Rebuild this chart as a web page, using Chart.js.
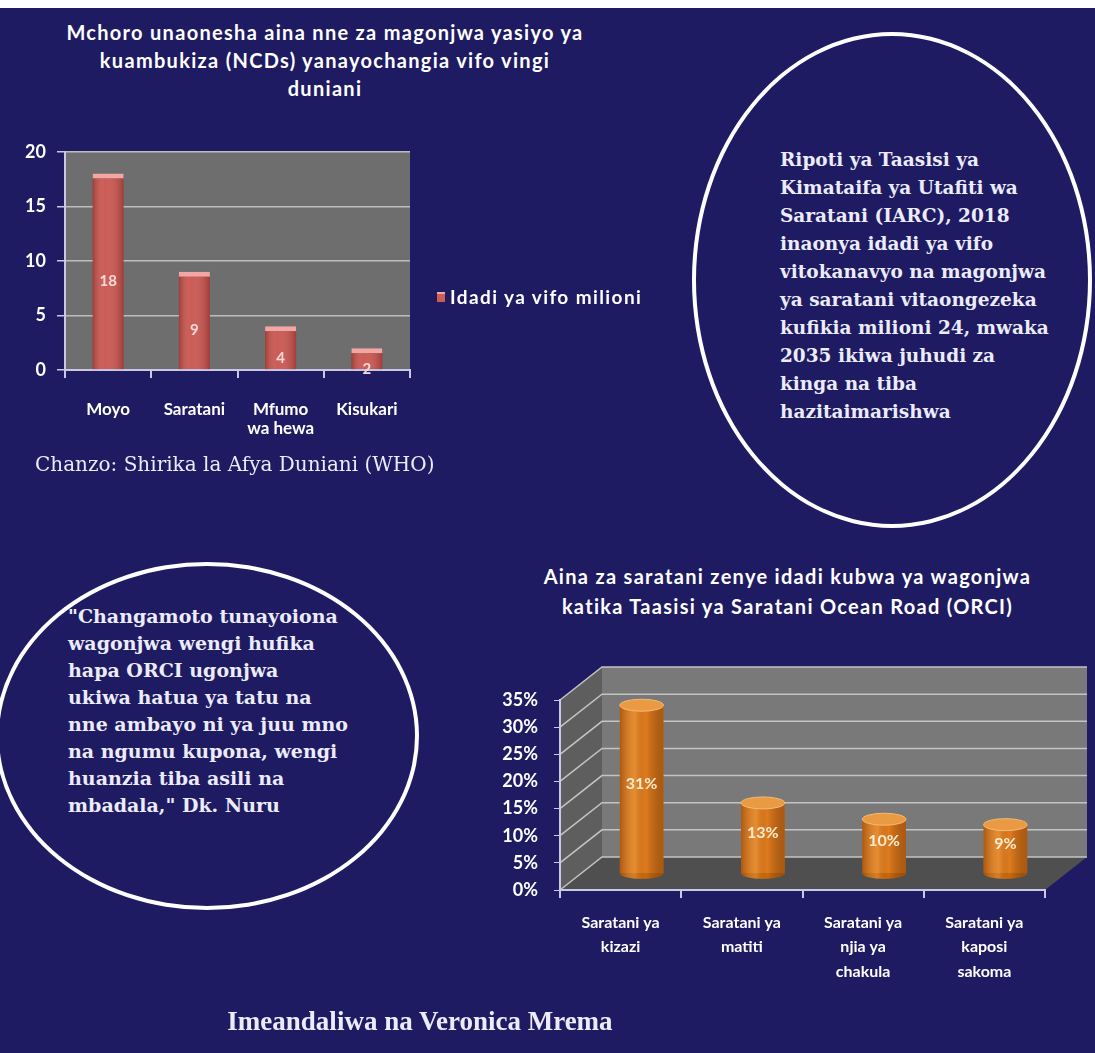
<!DOCTYPE html>
<html lang="sw">
<head>
<meta charset="UTF-8">
<title>Magonjwa yasiyo ya kuambukiza (NCDs)</title>
<script src="https://cdn.jsdelivr.net/npm/chart.js@4.4.1/dist/chart.umd.min.js"></script>
<style>
    html, body { margin: 0; padding: 0; }
    body {
        width: 1095px; height: 1053px; position: relative; overflow: hidden;
        background: #1e1b62; color: #fff; font-family: Lato, "Open Sans", sans-serif;
    }
    .topband { position: absolute; left: 0; top: 0; width: 1095px; height: 8px; background: #fff; }
    .title { position: absolute; text-align: center; font-weight: bold; font-size: 20px; line-height: 28px; letter-spacing: 1.3px; white-space: nowrap; }
    .serif { position: absolute; font-family: "DejaVu Serif", serif; color: #ecebfa; white-space: nowrap; }
    .ring { position: absolute; border: 4px solid #fff; border-radius: 50%; box-sizing: border-box; }
    .box { position: absolute; }
    .legend-sq { position: absolute; left: 437px; top: 292px; width: 8px; height: 10px; background: #cf5b56; border-top: 2px solid #f2a5a0; box-sizing: border-box; }
    .legend-tx { position: absolute; left: 450px; top: 285px; font-weight: bold; font-size: 19px; line-height: 24px; letter-spacing: 1.4px; white-space: nowrap; }
</style>
</head>
<body>
<div class="topband"></div>

<!-- chati ya kwanza -->
<div class="title" style="left:0; top:18px; width:650px;">Mchoro unaonesha aina nne za magonjwa yasiyo ya<br>kuambukiza (NCDs) yanayochangia vifo vingi<br>duniani</div>
<div class="box" style="left:0; top:130px; width:440px; height:330px;"><canvas id="ncdChart"></canvas></div>
<div class="legend-sq"></div>
<div class="legend-tx">Idadi ya vifo milioni</div>
<div class="serif" style="left:35px; top:451px; font-size:20px; line-height:26px;">Chanzo: Shirika la Afya Duniani (WHO)</div>

<!-- duara la kulia -->
<div class="ring" style="left:692px; top:32px; width:400px; height:496px;"></div>
<div class="serif" style="left:780px; top:146px; font-size:18.5px; line-height:28px; font-weight:bold;">
Ripoti ya Taasisi ya<br>Kimataifa ya Utafiti wa<br>Saratani (IARC), 2018<br>inaonya idadi ya vifo<br>vitokanavyo na magonjwa<br>ya saratani vitaongezeka<br>kufikia milioni 24, mwaka<br>2035 ikiwa juhudi za<br>kinga na tiba<br>hazitaimarishwa</div>

<!-- duara la kushoto -->
<div class="ring" style="left:-5px; top:562px; width:424px; height:348px;"></div>
<div class="serif" style="left:68px; top:603px; font-size:19px; line-height:27px; font-weight:bold;">
"Changamoto tunayoiona<br>wagonjwa wengi hufika<br>hapa ORCI ugonjwa<br>ukiwa hatua ya tatu na<br>nne ambayo ni ya juu mno<br>na ngumu kupona, wengi<br>huanzia tiba asili na<br>mbadala," Dk. Nuru</div>

<!-- chati ya pili -->
<div class="title" style="left:480px; top:561px; width:615px; line-height:30px;">Aina za saratani zenye idadi kubwa ya wagonjwa<br>katika Taasisi ya Saratani Ocean Road (ORCI)</div>
<div class="box" style="left:480px; top:640px; width:615px; height:380px;"><canvas id="orciChart"></canvas></div>

<div class="serif" style="left:0; width:840px; top:1003px; text-align:center; font-family:'Liberation Serif', serif; font-weight:bold; font-size:27px; line-height:36px;">Imeandaliwa na Veronica Mrema</div>

<script>
// data: vifo (milioni) kwa NCDs
const causes = [['Moyo'], ['Saratani'], ['Mfumo', 'wa hewa'], ['Kisukari']];
const deaths = [18, 9, 4, 2];
const deathTicks = [0, 5, 10, 15, 20];
const deathLabel = 'Idadi ya vifo milioni';

// data: aina za saratani ORCI (%)
const cancerTypes = [['Saratani ya', 'kizazi'], ['Saratani ya', 'matiti'], ['Saratani ya', 'njia ya', 'chakula'], ['Saratani ya', 'kaposi', 'sakoma']];
const cancerShare = [31, 13, 10, 9];
const shareTicks = [0, 5, 10, 15, 20, 25, 30, 35];

const depth = { dx: 42, dy: -33 };

function poly(ctx, pts) {
    ctx.beginPath();
    ctx.moveTo(pts[0][0], pts[0][1]);
    for (let i = 1; i < pts.length; i++) ctx.lineTo(pts[i][0], pts[i][1]);
    ctx.closePath();
    ctx.fill();
}

// gray plot background
const plotBg = {
    id: 'plotBg',
    beforeDraw(chart) {
        const { ctx, chartArea: a } = chart;
        ctx.save();
        ctx.fillStyle = '#6e6e6e';
        ctx.fillRect(a.left, a.top, a.right - a.left, a.bottom - a.top);
        ctx.restore();
    }
};

// shading + value text for flat bars
const flatBars = {
    id: 'flatBars',
    afterDatasetsDraw(chart) {
        const ctx = chart.ctx;
        chart.getDatasetMeta(0).data.forEach((el, i) => {
            const x0 = el.x - el.width / 2;
            const g = ctx.createLinearGradient(x0, 0, x0 + el.width, 0);
            g.addColorStop(0, 'rgba(90,20,20,0.35)');
            g.addColorStop(0.4, 'rgba(255,255,255,0.06)');
            g.addColorStop(1, 'rgba(90,20,20,0.35)');
            ctx.save();
            ctx.fillStyle = g;
            ctx.fillRect(x0, el.y + 5, el.width, el.base - el.y - 5);
            ctx.fillStyle = '#f6dada';
            ctx.font = 'bold 15px Lato, sans-serif';
            ctx.textAlign = 'center';
            ctx.textBaseline = 'middle';
            ctx.fillText(deaths[i], el.x, (el.y + el.base) / 2 + 10);
            ctx.restore();
        });
    }
};

// 3D walls, floor and wall gridlines
const walls = {
    id: 'walls',
    beforeDraw(chart) {
        const { ctx, chartArea: a, scales: { y } } = chart;
        const { dx, dy } = depth;
        ctx.save();
        ctx.fillStyle = '#797979';
        ctx.fillRect(a.left + dx, a.top + dy, a.right - a.left, a.bottom - a.top);
        ctx.fillStyle = '#5e5e5e';
        poly(ctx, [[a.left, a.top], [a.left + dx, a.top + dy], [a.left + dx, a.bottom + dy], [a.left, a.bottom]]);
        ctx.fillStyle = '#4f4f4f';
        poly(ctx, [[a.left, a.bottom], [a.left + dx, a.bottom + dy], [a.right + dx, a.bottom + dy], [a.right, a.bottom]]);
        ctx.strokeStyle = '#c4c4c4';
        ctx.lineWidth = 1.5;
        y.ticks.forEach(t => {
            const py = y.getPixelForValue(t.value);
            ctx.beginPath();
            ctx.moveTo(a.left, py);
            ctx.lineTo(a.left + dx, py + dy);
            ctx.lineTo(a.right + dx, py + dy);
            ctx.stroke();
        });
        ctx.restore();
    },
    beforeDatasetsDraw(chart) {
        chart.ctx.save();
        chart.ctx.translate(depth.dx / 2, depth.dy / 2);
    },
    afterDatasetsDraw(chart) {
        const ctx = chart.ctx;
        chart.getDatasetMeta(0).data.forEach((el, i) => {
            const r = el.width / 2, ry = 6;
            const x0 = el.x - r;
            // bottom rounding
            ctx.fillStyle = '#c8690f';
            ctx.beginPath();
            ctx.ellipse(el.x, el.base, r, ry, 0, 0, Math.PI);
            ctx.fill();
            // cylinder shading
            const g = ctx.createLinearGradient(x0, 0, x0 + el.width, 0);
            g.addColorStop(0, 'rgba(110,45,0,0.45)');
            g.addColorStop(0.35, 'rgba(255,200,120,0.22)');
            g.addColorStop(0.6, 'rgba(0,0,0,0)');
            g.addColorStop(1, 'rgba(110,45,0,0.45)');
            ctx.fillStyle = g;
            ctx.fillRect(x0, el.y, el.width, el.base - el.y);
            ctx.beginPath();
            ctx.ellipse(el.x, el.base, r, ry, 0, 0, Math.PI);
            ctx.fill();
            // top cap
            ctx.fillStyle = '#eb9a44';
            ctx.strokeStyle = '#f5bb72';
            ctx.lineWidth = 1;
            ctx.beginPath();
            ctx.ellipse(el.x, el.y, r, ry, 0, 0, Math.PI * 2);
            ctx.fill();
            ctx.stroke();
            ctx.fillStyle = '#fcecd0';
            ctx.font = 'bold 16px Lato, sans-serif';
            ctx.textAlign = 'center';
            ctx.textBaseline = 'middle';
            ctx.fillText(cancerShare[i] + '%', el.x, (el.y + el.base) / 2 - 5);
        });
        ctx.restore();
    }
};

const axisColor = '#c9c9e6';

new Chart(document.getElementById('ncdChart'), {
    type: 'bar',
    data: {
        labels: causes,
        datasets: [{
            label: deathLabel,
            data: deaths,
            backgroundColor: '#c9514a',
            borderColor: '#f3a7a2',
            borderWidth: { top: 5, right: 0, bottom: 0, left: 0 },
            barPercentage: 0.36,
            categoryPercentage: 1
        }]
    },
    options: {
        responsive: true,
        maintainAspectRatio: false,
        animation: false,
        layout: { padding: { top: 20, right: 30, left: 0, bottom: 0 } },
        plugins: { legend: { display: false }, tooltip: { enabled: false } },
        scales: {
            x: {
                afterFit: s => { s.height = 90; },
                grid: { offset: true, drawOnChartArea: false, drawTicks: true, tickLength: 8, color: axisColor, lineWidth: 2 },
                border: { color: axisColor, width: 2 },
                ticks: { color: '#ffffff', padding: 22, font: { family: 'Lato', weight: 'bold', size: 17, lineHeight: 1.1 } }
            },
            y: {
                min: 0, max: 20,
                afterFit: s => { s.width = 65; },
                afterBuildTicks: s => { s.ticks = deathTicks.map(v => ({ value: v })); },
                grid: { color: '#bdbdbd', lineWidth: 1.5, tickLength: 8, tickColor: axisColor },
                border: { color: axisColor, width: 2 },
                ticks: { color: '#ffffff', padding: 11, font: { family: 'Lato', weight: 'bold', size: 18 } }
            }
        }
    },
    plugins: [plotBg, flatBars]
});

new Chart(document.getElementById('orciChart'), {
    type: 'bar',
    data: {
        labels: cancerTypes,
        datasets: [{
            label: 'Asilimia ya wagonjwa',
            data: cancerShare,
            backgroundColor: '#df7b1d',
            borderWidth: 0,
            barPercentage: 0.36,
            categoryPercentage: 1,
            clip: false
        }]
    },
    options: {
        responsive: true,
        maintainAspectRatio: false,
        animation: false,
        layout: { padding: { top: 60, right: 50, left: 0, bottom: 0 } },
        plugins: { legend: { display: false }, tooltip: { enabled: false } },
        scales: {
            x: {
                afterFit: s => { s.height = 130; },
                grid: { offset: true, drawOnChartArea: false, drawTicks: true, tickLength: 8, color: axisColor, lineWidth: 2 },
                border: { color: axisColor, width: 2 },
                ticks: { color: '#ffffff', padding: 12, font: { family: 'Lato', weight: 'bold', size: 16, lineHeight: 1.55 } }
            },
            y: {
                min: 0, max: 35,
                afterFit: s => { s.width = 80; },
                afterBuildTicks: s => { s.ticks = shareTicks.map(v => ({ value: v })); },
                grid: { drawOnChartArea: false, tickLength: 6, color: axisColor },
                border: { color: axisColor, width: 2 },
                ticks: { color: '#ffffff', padding: 16, callback: v => v + '%', font: { family: 'Lato', weight: 'bold', size: 18 } }
            }
        }
    },
    plugins: [walls]
});
</script>
</body>
</html>
